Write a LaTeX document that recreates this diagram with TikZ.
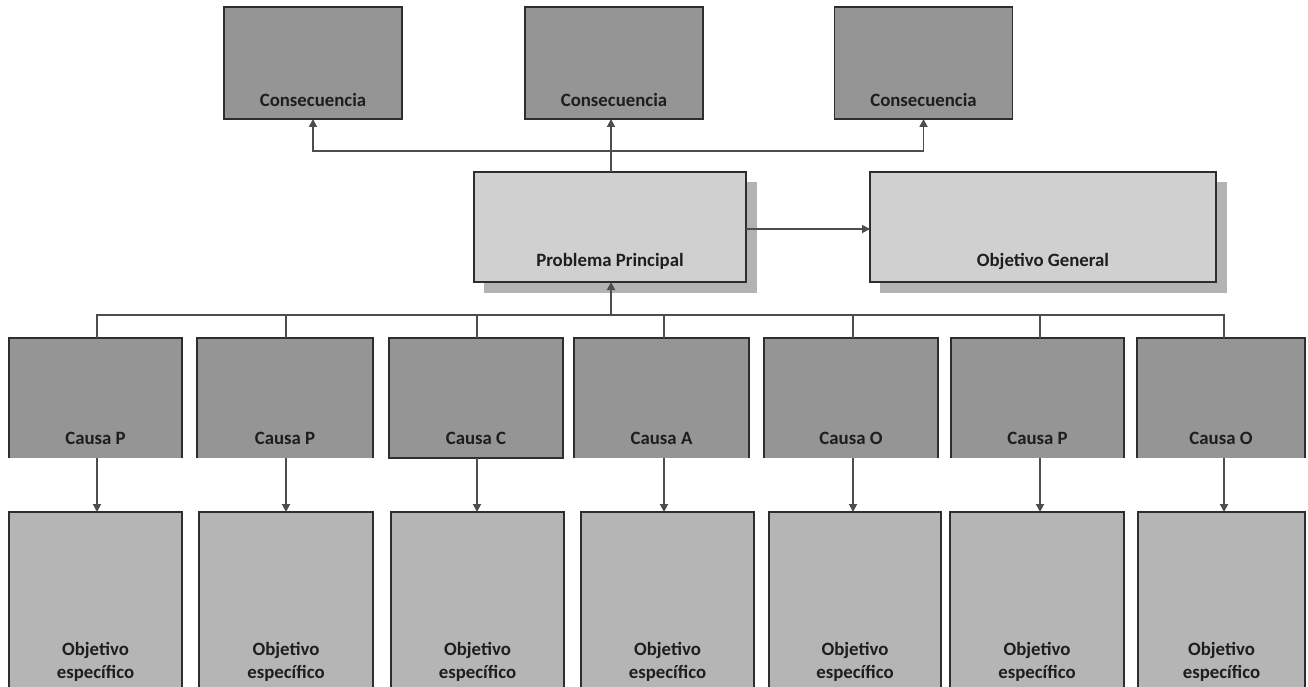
\documentclass[tikz,border=0pt]{standalone}
\usepackage{fontspec}
\setmainfont{Carlito}
\usetikzlibrary{arrows.meta}
\definecolor{darkfill}{HTML}{959595}
\definecolor{lightfill}{HTML}{D0D0D0}
\definecolor{objfill}{HTML}{B5B5B5}
\definecolor{shadowc}{HTML}{B3B3B3}
\definecolor{edge}{HTML}{2E2E2E}
\definecolor{wire}{HTML}{4D4D4D}
\definecolor{txt}{HTML}{1E1E1E}
\tikzset{
  box/.style={rectangle, inner sep=0pt, outer sep=0pt, draw=edge, line width=1.6pt},
  consbox/.style={box, fill=darkfill, minimum width=178pt, minimum height=112pt},
  bigbox/.style={box, fill=lightfill, minimum height=110pt},
  causefill/.style={rectangle, inner sep=0pt, outer sep=0pt, fill=darkfill, minimum height=120pt},
  objbox/.style={box, fill=objfill, minimum height=190pt},
  lbl/.style={inner sep=0pt, text=txt, font=\fontsize{18.8}{24}\selectfont\bfseries, align=center},
  wireline/.style={draw=wire, line width=1.8pt},
  arr/.style={wireline, -{Triangle[length=8pt,width=8pt]}},
}
\begin{document}
\begin{tikzpicture}[x=1pt,y=-1pt]
\clip (0,0) rectangle (1308,687);
\fill[white] (0,0) rectangle (1308,687);
% consequences
\node[consbox] (k1) at (313,63) {};
\node[consbox] (k2) at (614,63) {};
\node[consbox] (k3) at (923.5,63) {};
\node[lbl, anchor=base] (k1t) at (313,107) {Consecuencia};
\node[lbl, anchor=base] (k2t) at (614,107) {Consecuencia};
\node[lbl, anchor=base] (k3t) at (923.5,107) {Consecuencia};
% shadows
\fill[shadowc] (484,182) rectangle (757,293);
\fill[shadowc] (880,182) rectangle (1227,293);
% main boxes
\node[bigbox, minimum width=272pt] (prob) at (610,227) {};
\node[bigbox, minimum width=346pt] (og) at (1043,227) {};
\node[lbl, anchor=base] (probt) at (610,266) {Problema Principal};
\node[lbl, anchor=base] (ogt) at (1043,266) {Objetivo General};
% connectors top
\coordinate (top) at (611,151);
\draw[wireline] (prob.north -| top) -- (top);
\draw[arr] (top) -| (k1.south);
\draw[arr] (top) -- (top |- k2.south);
\draw[arr] (top) -| (k3.south);
\draw[arr] (prob.east |- 0,229) -- (og.west |- 0,229);
% causes
\foreach \i/\l/\r/\lab in {1/9/182/Causa P, 2/197/373/Causa P, 3/389/563/Causa C, 4/574/749/Causa A, 5/764/938/Causa O, 6/951/1124/Causa P, 7/1137/1305/Causa O}{
  \node[causefill, minimum width={\r-\l}] (c\i) at ({(\l+\r)/2},398) {};
  \node[lbl, anchor=base] (c\i t) at ({(\l+\r)/2},444) {\lab};
}
\foreach \i in {1,2,4,5,6,7}{
  \draw[edge, line width=1.6pt] (c\i.south west) -- (c\i.north west) -- (c\i.north east) -- (c\i.south east);
}
\draw[edge, line width=1.6pt] (c3.south west) rectangle (c3.north east);
% objectives
\foreach \i/\l/\r in {1/9/182, 2/199/373, 3/391/564, 4/581/754, 5/769/941, 6/950/1124, 7/1138/1305}{
  \node[objbox, minimum width={\r-\l}] (o\i) at ({(\l+\r)/2},607) {};
  \node[lbl, anchor=base] (o\i a) at ({(\l+\r)/2},655) {Objetivo};
  \node[lbl, anchor=base] (o\i b) at ({(\l+\r)/2},678) {específico};
}
% bus
\coordinate (bus) at (611,315);
\draw[wireline] ([xshift=1.5pt]c1.north) |- (bus) -| ([xshift=3pt]c7.north);
\foreach \i/\dx in {2/1,3/1,4/2.5,5/2,6/2.5}{
  \draw[wireline] ([xshift=\dx pt]c\i.north) -- ([xshift=\dx pt]c\i.north |- bus);
}
\draw[arr] (bus) -- (bus |- prob.south);
% cause -> objective
\foreach \i/\dx in {1/1.5,2/1,3/1,4/2.5,5/2,6/2.5,7/3}{
  \draw[arr] ([xshift=\dx pt]c\i.south) -- ([xshift=\dx pt]c\i.south |- o\i.north);
}
\end{tikzpicture}
\end{document}
